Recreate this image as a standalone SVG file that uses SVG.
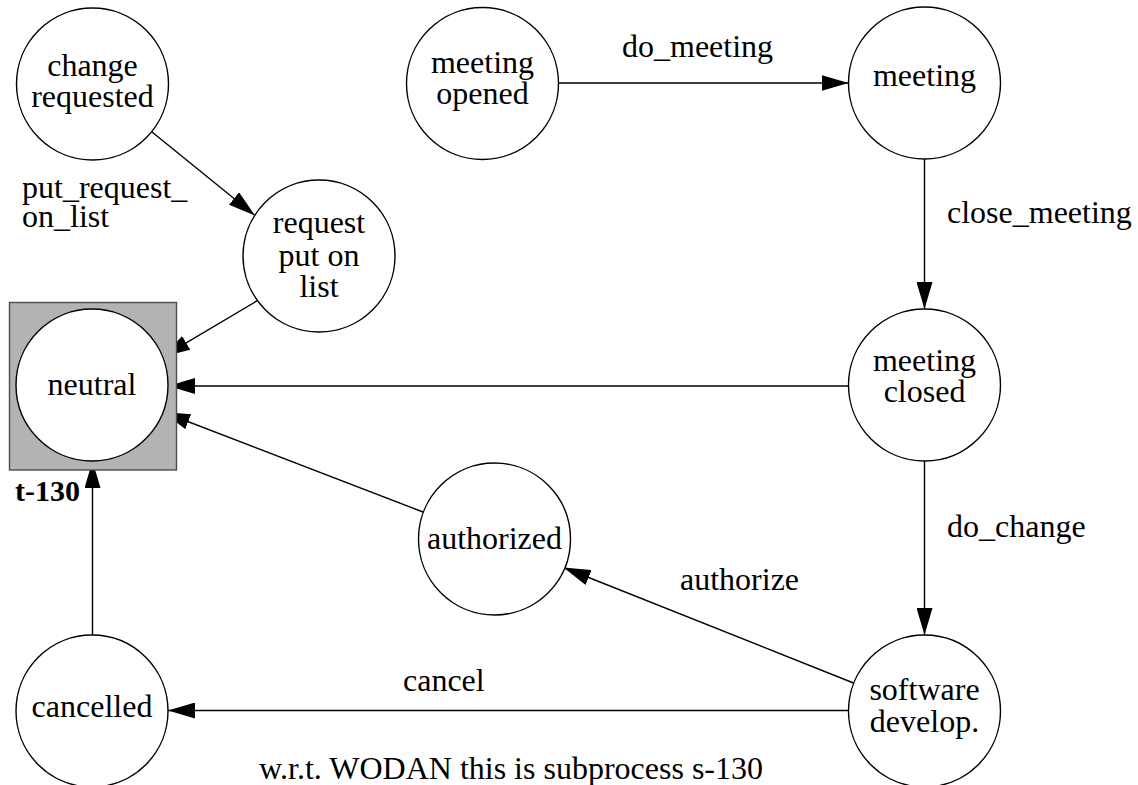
<svg xmlns="http://www.w3.org/2000/svg" width="1138" height="785" viewBox="0 0 1138 785">
<style>
.n{fill:#fff;stroke:#000;stroke-width:1.4}
.t{font-family:"Liberation Serif","Times New Roman",serif;font-size:32px;fill:#000}
.c{text-anchor:middle}
.e{stroke:#000;stroke-width:1.4;fill:none;marker-end:url(#ah)}
</style>
<defs>
<marker id="ah" markerUnits="userSpaceOnUse" viewBox="0 0 27 16" markerWidth="27" markerHeight="16" refX="27" refY="8" orient="auto">
<path d="M0,0 L27,8 L0,16 z" fill="#000"/>
</marker>
</defs>
<rect width="1138" height="785" fill="#fff"/>
<g id="connectors">
<line class="e" x1="558.5" y1="83" x2="848.5" y2="83"/>
<line class="e" x1="924.5" y1="159" x2="924.5" y2="309"/>
<line class="e" x1="848.5" y1="386" x2="168" y2="386"/>
<line class="e" x1="924.5" y1="461" x2="924.5" y2="635"/>
<line class="e" x1="853.5" y1="683" x2="563.5" y2="567.5"/>
<line class="e" x1="848.5" y1="710.5" x2="168" y2="710.5"/>
<line class="e" x1="423" y1="512" x2="163" y2="412"/>
<line class="e" x1="92.5" y1="635" x2="92.5" y2="461"/>
<line class="e" x1="151.7" y1="131.7" x2="255" y2="215.5"/>
<line class="e" x1="257.3" y1="300.7" x2="163" y2="356.7"/>
<text class="t" x="622" y="57">do_meeting</text>
<text class="t" x="947" y="223">close_meeting</text>
<text class="t" x="947" y="537">do_change</text>
<text class="t" x="680" y="590">authorize</text>
<text class="t" x="403" y="691">cancel</text>
<text class="t" x="22" y="198">put_request_</text>
<text class="t" x="22" y="227">on_list</text>
</g>
<g id="change_requested">
<circle class="n" cx="92.5" cy="84" r="76"/>
<text class="t c" x="92.5" y="76">change</text>
<text class="t c" x="92.5" y="107">requested</text>
</g>
<g id="meeting_opened">
<circle class="n" cx="482.5" cy="83.5" r="76"/>
<text class="t c" x="482.5" y="73">meeting</text>
<text class="t c" x="482.5" y="104">opened</text>
</g>
<g id="meeting">
<circle class="n" cx="924.5" cy="83" r="76"/>
<text class="t c" x="924.5" y="86">meeting</text>
</g>
<g id="request_put_on_list">
<circle class="n" cx="319" cy="256" r="76"/>
<text class="t c" x="319" y="233">request</text>
<text class="t c" x="319" y="266">put on</text>
<text class="t c" x="319" y="297">list</text>
</g>
<g id="neutral">
<rect x="9.5" y="302.5" width="167" height="167.5" fill="#b3b3b3" stroke="#4d4d4d" stroke-width="1.4"/>
<circle class="n" cx="92" cy="385" r="76"/>
<text class="t c" x="92" y="395">neutral</text>
<text x="15" y="501" font-family="Liberation Serif, Times New Roman, serif" font-size="30" font-weight="bold">t-130</text>
</g>
<g id="meeting_closed">
<circle class="n" cx="924.5" cy="385" r="76"/>
<text class="t c" x="924.5" y="371">meeting</text>
<text class="t c" x="924.5" y="402">closed</text>
</g>
<g id="authorized">
<circle class="n" cx="494.5" cy="539" r="76"/>
<text class="t c" x="494.5" y="549">authorized</text>
</g>
<g id="cancelled">
<circle class="n" cx="92" cy="711" r="76"/>
<text class="t c" x="92" y="717">cancelled</text>
</g>
<g id="software_develop">
<circle class="n" cx="924.5" cy="711" r="76"/>
<text class="t c" x="924.5" y="700">software</text>
<text class="t c" x="924.5" y="732">develop.</text>
</g>
<text class="t" x="259" y="779">w.r.t. WODAN this is subprocess s-130</text>
</svg>
